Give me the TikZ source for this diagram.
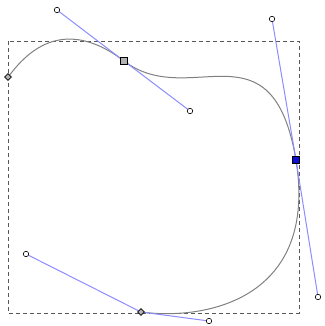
\documentclass[tikz,border=0pt]{standalone}
\usepackage{xcolor}
\usetikzlibrary{shapes.geometric}
\definecolor{pathgray}{HTML}{808080}
\definecolor{boxgray}{HTML}{585858}
\definecolor{handleblue}{HTML}{8C8CFF}
\definecolor{selblue}{HTML}{1010D0}

\begin{document}
\begin{tikzpicture}[x=1pt, y=-1pt,
                    frame/.style={boxgray, line width=0.9pt, dash pattern=on 4pt off 3pt},
                    curve/.style={pathgray, line width=1pt},
                    handle/.style={handleblue, line width=1pt},
                    knot/.style={draw=black, fill=gray!60, inner sep=0pt, minimum size=5pt, line width=0.6pt},
                    tip/.style={circle, draw=black, fill=white, inner sep=0pt, minimum size=5.5pt, line width=0.6pt}]

  \useasboundingbox (0,0) rectangle (324,326);

  %% 路徑節點與控制柄
  \coordinate (n1) at (8,77);
  \coordinate (n2) at (124,61);
  \coordinate (n3) at (296,160);
  \coordinate (n4) at (141,312);
  \coordinate (c1) at (20,62);
  \coordinate (h2a) at (57,10);
  \coordinate (h2b) at (190,111);
  \coordinate (h3a) at (272,19);
  \coordinate (h3b) at (318,297);
  \coordinate (h4a) at (26,254);
  \coordinate (h4b) at (209,321);

  %% 虛線外框
  \draw[frame] (8,41) rectangle (299,313);

  %% 曲線
  \draw[curve] (n1) .. controls (c1) and (h2a) .. (n2)
                    .. controls (h2b) and (h3a) .. (n3)
                    .. controls (h3b) and (h4b) .. (n4);

  %% 控制柄
  \draw[handle] (h2a) -- (n2) -- (h2b);
  \draw[handle] (h3a) -- (n3) -- (h3b);
  \draw[handle] (h4a) -- (n4) -- (h4b);

  %% 節點標記
  \node[knot, diamond, minimum size=7pt] (m1) at (n1) {};
  \node[knot, rectangle, minimum size=6.5pt] (m2) at (n2) {};
  \node[knot, rectangle, fill=selblue, minimum size=7pt] (m3) at (n3) {};
  \node[knot, diamond, minimum size=7pt] (m4) at (n4) {};
  \foreach \h in {h2a,h2b,h3a,h3b,h4a,h4b}
    \node[tip] (t-\h) at (\h) {};

\end{tikzpicture}
\end{document}
